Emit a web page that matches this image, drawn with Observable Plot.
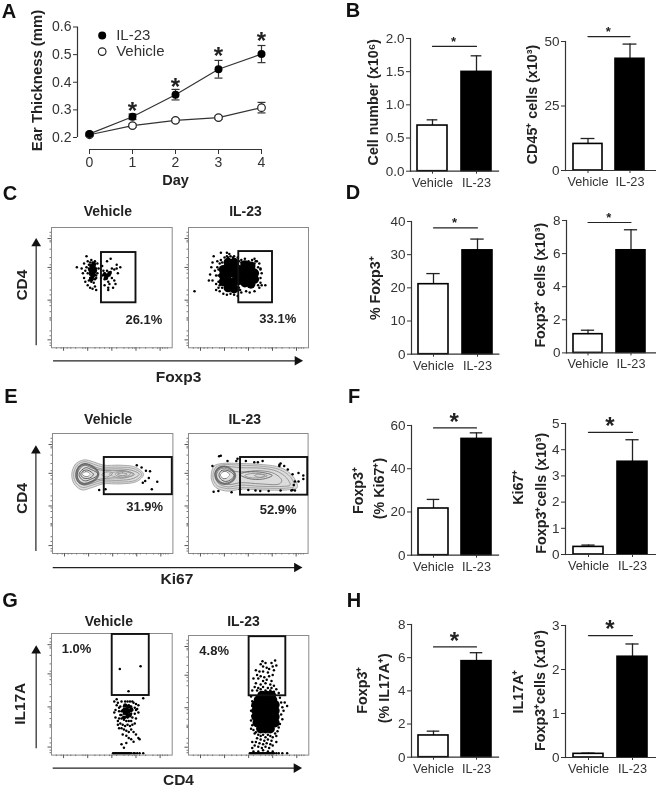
<!DOCTYPE html>
<html><head><meta charset="utf-8">
<script src="https://cdn.jsdelivr.net/npm/d3@7"></script>
<script src="https://cdn.jsdelivr.net/npm/@observablehq/plot@0.6"></script>
<style>
html,body{margin:0;padding:0;background:#fff;overflow:hidden}
#page{position:relative;width:656px;height:788px;filter:blur(0.35px)}
#page svg{position:absolute;overflow:visible;background:transparent}
.letter{position:absolute;font:bold 20px "Liberation Sans",Arial,sans-serif;color:#111;transform:translate(-50%,-50%)}
</style></head><body><div id="page"></div>
<script>
// ---------- Panel A data ----------
const days=[0,1,2,3,4];
const il23Thick=[0.213,0.275,0.355,0.447,0.502];
const il23Err=[0.006,0.010,0.019,0.032,0.031];
const vehThick=[0.210,0.243,0.262,0.272,0.308];
const vehErr=[0.004,0.006,0.006,0.006,0.019];
const starDays=[1,2,3,4];
const starLevels=[0.308,0.395,0.510,0.564];
// ---------- Bar panel data ----------
const cats=["Vehicle","IL-23"];
const barFill=["white","black"];
const b1Mean=[0.688,1.497], b1Upper=[0.774,1.739];
const b2Mean=[10.3,43.3],  b2Upper=[12.4,49];
const d1Mean=[21.1,31.3],  d1Upper=[24.3,34.7];
const d2Mean=[1.13,6.2],   d2Upper=[1.37,7.44];
const f1Mean=[21.6,53.8],  f1Upper=[25.8,56.6];
const f2Mean=[0.29,3.54],  f2Upper=[0.36,4.38];
const h1Mean=[1.31,5.79],  h1Upper=[1.57,6.3];
const h2Mean=[0.083,2.29], h2Upper=[0.10,2.58];
// ---------- Flow cytometry data (percent of each axis) ----------
const cVehCore=[33,68,35,67,32,65,34,65,36,64,33,62,35,61,34,59,33,57,35,70,44,61,46,60,48,62,45,58];
const cVehDots=[21,67,29,76,30,72,25,66,27,70,28,64,26,62,27,58,28,55,30,52,32,50,34,49,36,51,37,48,31,56,
33,68,35,68,31,66,33,66,35,65,37,66,32,63,34,63,36,63,33,60,35,60,32,58,34,57,36,57,38,70,34,71,36,72,33,73,38,62,39,66,
31,69,30,62,29,67,37,60,36,69,32,71,34,65,32,61,35,62,33,55,35,54,37,58,
42,60,44,62,46,58,48,60,44,57,47,55,49,63,50,66,46,64,52,65,54,66,50,58,52,56,48,53,51,50,53,53,47,50,46,72,42,68,49,74,55,62,54,69,57,67,44,52,47,48,43,64,45,60,41,58];
const cIlCore=[29,55,29,60,29,65,33,50,33,55,33,61,33,67,33,71,38,49,38,55,38,62,38,68,38,71,42,56,42,60,42,65,47,54,47,60,47,66,47,69,52,53,52,59,52,65,52,68,55,57,55,62];
const cIlDots=[19,67,20,71,18,61,20,56,17,56,22,64,23,60,24,67,24,72,21,76,23,53,25,50,23,48,26,47,29,45,32,44,35,45,38,44,41,43,44,46,48,47,51,46,55,47,59,50,60,54,60,58,61,62,60,66,59,70,56,72,53,73,50,72,47,74,44,73,41,75,38,76,35,76,32,76,30,75,27,73,33,75,37,75,5,47,60,65,61,52,64,52,27,79,32,79,34,78,55,74,57,72,25,55,25,60,25,65,26,70,28,71,28,50,26,52,58,52,58,67,55,70,42,50,43,48,42,72,44,71];
const eVehDots=[70,73.6,74,71.7,77.6,69,81,68.6,80,63,87,59.7,77,60.5,75,59,82.5,53.6,38.8,53,44,53.6];
const eIlDots=[20,73,25.6,81,27,81.4,32.6,77,41,79,48,77,55,76,62,77,76,74,80,73,83,70,87,66,92,67,96,65,96,62,92,60,89,60,88,57,87,53,86,52.5,89,52.5,77,52.5,67,52,60,52,56,52.5,50,53,43,53.5,36,51,25,52,21,51.5,40,77,58,76,76,73,77,75];
const gVehCore=[60,36,62,38,64,36,62,34,64,40,61,41,66,38,63,32,60,31,65,33];
const gVehDots=[56.6,70.7,73.8,73,63.8,52.6,76,46.8,
60,40,62,41,64,41,66,40,59,37,61,37,63,38,65,37,67,37,60,34,62,34,64,35,66,34,61,31,63,31,65,32,67,31,60,29,62,28,64,28,66,28,63,44,65,44,61,44,58,44,68,43,70,42,57,40,69,39,71,38,56,36,57,33,58,30,69,34,70,30,54,41,53,37,52,44,54,46,52,35,53,31,55,28,57,26,59,25,61,24,63,25,65,24,67,25,69,26,56,22,60,21,62,20,64,19,66,21,68,19,70,17,72,14,73,13,59,17,62,16,64,14,66,13,68,11,58,9,60,6,62,10,
62,36,63,35,61,35,64,37,63,40,65,40,62,38,64,33,60,38,66,36,55,43,56,39,58,36,58,33,56,30,72,35,72,41,70,37,67,44,55,25,58,22,
51,1.5,52,1.5,53,1.5,54,1.5,55,1.5,56,1.5,57,1.5,58,1.5,59,1.5,60,1.5,61,1.5,62,1.5,63,1.5,64,1.5,65,1.5,66,1.5,68,1.5,69,1.5,71,1.5,73,1.5,76,1.5];
const gIlCore=[60,22,64,22,68,22,57,27,61,27,65,27,69,27,72,27,56,32,60,32,64,32,68,32,72,32,56,37,60,37,64,37,68,37,72,37,56,42,60,42,64,42,68,42,72,42,58,46,62,46,66,46,70,46,61,50,65,50,69,50];
const gIlDots=[61.5,78.4,60,76,64,77,69,77,72,79,62,74,65,73,67,72,70,74,73,75,56,71,59,70,62,70,66,69,71,71,57,67,60,66,63,65,67,66,70,67,54,64,58,64,62,62,65,63,69,62,56,60,60,59,64,60,68,59,71,58,55,57,58,56,62,57,66,56,69,56,73,55,53,54,57,54,60,55,64,54,68,54,71,53,75,52,
52,49,53,45,53,41,52,37,53,33,52,29,53,25,54,21,55,18,52,22,76,48,77,44,78,40,79,37,77,34,78,30,76,26,75,23,74,20,72,18,73,16,80,44,82,41,
56,19,58,17,60,16,62,17,64,15,66,17,68,16,70,15,57,14,60,13,63,12,66,13,69,12,56,11,59,10,62,9,65,10,68,9,53,11,55,8,58,7,61,6,64,7,67,6,70,8,73,11,53,6,
51,1.5,52,1.5,53,1.5,54,1.5,55,1.5,56,1.5,57,1.5,58,1.5,59,1.5,60,1.5,61,1.5,62,1.5,63,1.5,64,1.5,65,1.5,66,1.5,67,1.5,68,1.5,69,1.5,70,1.5,71,1.5,73,1.5,75,1.5,78,1.5,82,1.5,54,3,58,3,62,4,66,3,70,3];
const eVehContours=[
[16,66,19,74.4,26,78,34,76.4,42.4,73.6,56,73.6,68.7,72,75.6,66,70,60,56,58,42,58,33,55,24.4,53,18,58],
[17.5,66,20.5,73.5,26,76.5,34,74.5,42,72,56,72,68,70.5,74,66,69,61,56,59.5,42,59.5,33,57,25,55,19.5,59],
[19,66,22,72.5,26.5,75,33,73,41,70.5,56,70.5,67,69,72,66,67,62.5,56,61,41,61,33,58.5,26,57,21,60],
[20.5,66,23.5,71.5,27,73.5,32,71.5,40,69.5,50,69,60,69,68,66,60,63,50,63,40,62,32,60,26.5,58.5,22,61],
[22,66,25,70,28,71.5,32,70,36,68,38,66,36,64,32,62,27.5,60.5,24,62],
[23.5,66,26,69,29,69.5,32,68,34,66,32,63.5,29,62.5,25.5,63],
[25,66,27.5,68,30,67.5,31,66,29.5,64.5,27,64.5],
[41,66,45,68,50,67,46,64,42,64.5],
[52,66,58,68.5,65,66.5,58,63.5],
[54,66,58,67.2,62,66,58,64.8],
[47,66,53,68,63,68,67,66,63,64,53,63.8]];
const eVehLobe=[20,66,22,72,27,74.5,33,72.5,38,67,36,62,30,58.5,25,58,21,61];
const eVehCenter=[25,66,27.5,67.6,30,67.2,31,66,29.5,64.8,27,64.8];
const eIlContours=[
[19,66,21.4,73,28.4,75,43.7,75,63,74,77,71.6,87,64.7,91,55,82.7,53,60.4,53,43.7,53.6,32.6,52,22.8,55,19.5,60.5],
[20.5,66,23,72,29,74,44,73.5,63,72.5,76,70,85,64,88.5,56,82,54.5,60,54.5,44,55,33,54,24,56.5,21,61],
[22,66,24.5,71,29.5,72.5,44,71.5,62,71,74,68.5,82,63,85,57,80,56,60,56,44,57,33,55.5,25.5,58,23,62],
[23.5,65.5,26,70,30,71,36,69,44,68,60,69,72,66.5,78,61,76,58,60,58,44,59,34,57.5,27,59.5,24.5,62],
[25.5,65.5,27.5,69,31,69.5,36,67.5,38,65,36,62,31,60,27,62],
[27,65.5,29,68,31.5,68,34,66,32,63,29,62.5],
[43,66,50,68,62,67.5,70,65,62,62,50,62.5],
[47,65,54,66.8,62,66,66,64.8,58,63,50,63.5],
[55,65,60,66,64,65,60,63.5]];
const eIlLobe=[22.5,66,25,71,30,72.5,36,70,39,65,36,60,30,58,25,60];
const eIlCenter=[27,65.5,29,67.6,32,67.6,34,65.5,32,63.2,29,63];
const contourShade=["#999","#999","#888","#777","#444","#444","#555","#888","#888","#777","#999"];
const flowMajor=[6.6,39.6,66.8,90.8], flowMinor=[2,4,10,14,23,24,25,30,35,38,44,48,58,62,65,69,75,82,88,89,93,96];
const flowXMajor=[10,30,50,70,90], flowXMinor=[4,8,13,16,20,26,28,36,40,44,48,54,60,64,67,69,73,78,84,88,92,94,96];

const pairs=a=>d3.range(0,a.length,2).map(i=>({x:a[i],y:a[i+1]}));
const FONT='"Liberation Sans",Arial,sans-serif';
const page=document.getElementById("page");
const place=(svg,left,top)=>{svg.style.left=left+"px";svg.style.top=top+"px";page.appendChild(svg);};
const base={style:{fontFamily:FONT,background:"transparent",overflow:"visible"}};
const boldText=(t,o)=>Plot.text([t],{text:d=>d,fontWeight:"bold",fill:"#222",textAnchor:"middle",lineAnchor:"middle",...o});

// ---------- Panel A ----------
(function(){
  const rows=(vals,errs)=>days.map((d,i)=>({d,v:vals[i],lo:vals[i]-errs[i],hi:vals[i]+errs[i]}));
  const il=rows(il23Thick,il23Err), veh=rows(vehThick,vehErr);
  const cap=(s,k)=>Plot.dot(s,{x:"d",y:k,symbol:{draw(c,sz){c.moveTo(-4,0);c.lineTo(4,0);}},stroke:"#333",strokeWidth:1.2,r:4});
  const svg=Plot.plot({...base,width:290,height:190,marginLeft:77,marginTop:20,marginBottom:41,marginRight:29,
    x:{domain:[0,4],range:[89,261]},
    y:{domain:[0.2,0.6],range:[137,26.5]},
    marks:[
      Plot.ruleX([0],{y1:0.2,y2:0.6,dx:-12,stroke:"#333",strokeWidth:1.2}),
      Plot.ruleY([0.2],{x1:0,x2:4,dy:12,stroke:"#333",strokeWidth:1.2}),
      Plot.axisY({ticks:[0.2,0.3,0.4,0.5,0.6],tickFormat:d3.format(".1f"),label:null,fontSize:14,color:"#333",tickSize:4,tickPadding:2}),
      Plot.axisX({ticks:days,tickFormat:"d",label:null,fontSize:14,color:"#333",tickSize:5,tickPadding:3}),
      Plot.ruleX(veh,{x:"d",y1:"lo",y2:"hi",stroke:"#333",strokeWidth:1.2}),cap(veh,"lo"),cap(veh,"hi"),
      Plot.ruleX(il,{x:"d",y1:"lo",y2:"hi",stroke:"#333",strokeWidth:1.2}),cap(il,"lo"),cap(il,"hi"),
      Plot.line(veh,{x:"d",y:"v",stroke:"#333",strokeWidth:1.2}),
      Plot.line(il,{x:"d",y:"v",stroke:"#333",strokeWidth:1.2}),
      Plot.dot(veh,{x:"d",y:"v",r:3.8,fill:"white",stroke:"#222",strokeWidth:1.2}),
      Plot.dot(il,{x:"d",y:"v",r:4,fill:"black"}),
      Plot.text(starDays,{x:d=>d,y:(d,i)=>starLevels[i],text:()=>"*",fontSize:24,fontWeight:"bold",fill:"#222",lineAnchor:"middle",dy:4}),
      Plot.dot([0],{x:[0.295],y:[0.569],r:4,fill:"black"}),
      Plot.dot([0],{x:[0.295],y:[0.511],r:3.8,fill:"white",stroke:"#222",strokeWidth:1.2}),
      Plot.text(["IL-23"],{x:[0.62],y:[0.569],text:d=>d,textAnchor:"start",fontSize:15,fill:"#333"}),
      Plot.text(["Vehicle"],{x:[0.62],y:[0.511],text:d=>d,textAnchor:"start",fontSize:15,fill:"#333"}),
      boldText("Ear Thickness (mm)",{frameAnchor:"top-left",dx:37-77,dy:80-20,rotate:-90,fontSize:14.9}),
      boldText("Day",{frameAnchor:"top-left",dx:175-77,dy:180-20,fontSize:14.5})
    ]});
  place(svg,0,0);
})();

// ---------- Bar panels ----------
function barPanel(p){
  const rows=cats.map((c,i)=>({c,m:p.mean[i],u:p.upper[i],f:barFill[i]}));
  const ml=72, mt=26, mb=30;
  const left=p.axisX-ml, top=p.top-mt;
  const w=p.end-left;
  const bw=(p.bars[1]-p.bars[0]-p.gap)/2;
  const h=p.base-top+mb;
  const c1=p.bars[0]+bw/2, c2=p.bars[1]-bw/2;
  const svg=Plot.plot({...base,width:w,height:h,marginLeft:ml,marginTop:mt,marginBottom:mb,marginRight:0,
    x:{type:"band",domain:cats,range:[p.bars[0]-left,p.bars[1]-left],paddingInner:p.gap/(bw+p.gap),paddingOuter:0,align:0},
    y:{domain:[0,p.max]},
    color:{type:"identity"},
    marks:[
      Plot.ruleX(rows,{x:"c",y1:"m",y2:"u",stroke:"#222",strokeWidth:1.3}),
      Plot.tickY(rows,{x:"c",y:"u",stroke:"#222",strokeWidth:1.3,insetLeft:bw/2-(p.cap||6),insetRight:bw/2-(p.cap||6)}),
      Plot.barY(rows,{x:"c",y:"m",fill:"f",stroke:"#000",strokeWidth:1.6}),
      Plot.frame({anchor:"left",stroke:"#333",strokeWidth:1.2}),
      Plot.frame({anchor:"bottom",stroke:"#333",strokeWidth:1.2}),
      Plot.axisY({ticks:p.ticks,tickFormat:p.fmt,label:null,fontSize:13.5,color:"#333",tickSize:4,tickPadding:2}),
      Plot.axisX({label:null,fontSize:12.7,color:"#333",tickSize:3,tickPadding:3.5}),
      Plot.line(cats.map(c=>({c,y:p.sig})),{x:"c",y:"y",stroke:"#222",strokeWidth:1.2}),
      Plot.text([cats[0]],{x:d=>d,y:()=>p.sig,text:()=>"*",dx:(c2-c1)/2-1,dy:p.big?-6:-5,fontSize:p.big?24:13,fontWeight:"bold",fill:"#222",lineAnchor:"middle"}),
      ...p.labels.map(l=>boldText(l.t,{frameAnchor:"top-left",dx:l.x-p.axisX,dy:l.y-p.top,rotate:-90,fontSize:14.3}))
    ]});
  place(svg,left,top);
}
const f1=d3.format(".1f"), f0=d3.format("d");
barPanel({axisX:410,end:498,top:38.3,base:171,max:2,ticks:[0,0.5,1,1.5,2],fmt:f1,bars:[416.7,491.3],gap:14,mean:b1Mean,upper:b1Upper,sig:1.88,cap:5.5,
  labels:[{t:"Cell number (x10⁶)",x:373,y:102}]});
barPanel({axisX:565,end:655,top:41,base:170,max:50,ticks:[0,25,50],fmt:f0,bars:[572.7,644.3],gap:13.3,mean:b2Mean,upper:b2Upper,sig:51.9,cap:7,
  labels:[{t:"CD45⁺ cells (x10³)",x:531.7,y:104}]});
barPanel({axisX:410.7,end:498,top:221,base:353.7,max:40,ticks:[0,10,20,30,40],fmt:f0,bars:[417.7,491.3],gap:14.4,mean:d1Mean,upper:d1Upper,sig:38.1,cap:6.5,
  labels:[{t:"% Foxp3⁺",x:375,y:287.7}]});
barPanel({axisX:565.7,end:655,top:220.3,base:352.7,max:8,ticks:[0,2,4,6,8],fmt:f0,bars:[572.7,646],gap:13.7,mean:d2Mean,upper:d2Upper,sig:7.88,cap:7,
  labels:[{t:"Foxp3⁺ cells (x10³)",x:540,y:285}]});
barPanel({axisX:411,end:498,top:425,base:554.7,max:60,ticks:[0,20,40,60],fmt:f0,bars:[417.7,491.3],gap:12.7,mean:f1Mean,upper:f1Upper,sig:58.9,big:true,cap:6.5,
  labels:[{t:"Foxp3⁺",x:358,y:490},{t:"(% Ki67⁺)",x:379,y:488}]});
barPanel({axisX:565,end:655,top:423.3,base:554.3,max:5,ticks:[0,1,2,3,4,5],fmt:f0,bars:[572.7,648.3],gap:14,mean:f2Mean,upper:f2Upper,sig:4.66,big:true,cap:7,
  labels:[{t:"Ki67⁺",x:518,y:487},{t:"Foxp3⁺cells (x10³)",x:540.7,y:493}]});
barPanel({axisX:411,end:498,top:624.3,base:757,max:8,ticks:[0,2,4,6,8],fmt:f0,bars:[417.7,492],gap:13.4,mean:h1Mean,upper:h1Upper,sig:6.65,big:true,cap:6.5,
  labels:[{t:"Foxp3⁺",x:362,y:690},{t:"(% IL17A⁺)",x:384,y:688}]});
barPanel({axisX:565,end:655,top:625,base:757,max:3,ticks:[0,1,2,3],fmt:f0,bars:[572.7,648.3],gap:14,mean:h2Mean,upper:h2Upper,sig:2.77,big:true,cap:7,
  labels:[{t:"IL17A⁺",x:518,y:691},{t:"Foxp3⁺cells (x10³)",x:540,y:690}]});

// ---------- Flow panels ----------
function flowPanel(p){
  const [L,R,T,B]=p.frame;
  const ml=50, mt=28, mb=34, mr=p.arrows?150:5;
  const contourRows=(p.contours||[]).flatMap((c,k)=>pairs(c).map(q=>({...q,k})));
  const marks=[];
  if(p.contours){
    marks.push(Plot.line(pairs(p.contours[0]),{x:"x",y:"y",curve:"catmull-rom-closed",fill:"#dcdcdc",stroke:"none"}));
    marks.push(Plot.line(contourRows,{x:"x",y:"y",z:"k",curve:"catmull-rom-closed",stroke:d=>contourShade[d.k],strokeWidth:0.8}));
    marks.push(Plot.line(pairs(p.lobe),{x:"x",y:"y",curve:"catmull-rom-closed",stroke:"#555",strokeWidth:2.2,strokeOpacity:0.75}));
    marks.push(Plot.line(pairs(p.center),{x:"x",y:"y",curve:"catmull-rom-closed",fill:"white",stroke:"none"}));
  }
  if(p.core) marks.push(Plot.dot(pairs(p.core),{x:"x",y:"y",r:p.coreR||5,fill:"black"}));
  marks.push(Plot.dot(pairs(p.dots),{x:"x",y:"y",r:1.25,fill:"black"}));
  marks.push(
    Plot.frame({stroke:"#8a8a8a",strokeWidth:1}),
    Plot.axisY({ticks:flowMajor,tickFormat:()=>"",label:null,tickSize:3.5,color:"#555"}),
    Plot.axisY({ticks:flowMinor,tickFormat:()=>"",label:null,tickSize:1.5,color:"#777"}),
    Plot.axisX({ticks:flowXMajor,tickFormat:()=>"",label:null,tickSize:3.5,color:"#555"}),
    Plot.axisX({ticks:flowXMinor,tickFormat:()=>"",label:null,tickSize:1.5,color:"#777"}),
    Plot.rect([p.gate],{x1:d=>d[0],x2:d=>d[1],y1:d=>d[2],y2:d=>d[3],stroke:"#111",strokeWidth:1.9,fill:"none"}),
    boldText(p.pct[0],{x:[p.pct[1]],y:[p.pct[2]],fontSize:13}),
    boldText(p.title,{frameAnchor:"top-left",dx:p.titleX-L,dy:p.titleY-T,fontSize:14})
  );
  if(p.arrows){
    const a=p.arrows;
    marks.push(
      Plot.ruleX([a.vx],{y1:a.vy[0],y2:a.vy[1],stroke:"#222",strokeWidth:1.2}),
      Plot.dot([0],{x:[a.vx],y:[a.vy[1]],symbol:"triangle",r:3.6,fill:"#111"}),
      Plot.ruleY([a.hy],{x1:a.hx[0],x2:a.hx[1],stroke:"#222",strokeWidth:1.2}),
      Plot.dot([0],{x:[a.hx[1]],y:[a.hy],symbol:"triangle",r:3.6,fill:"#111",rotate:90}),
      boldText(p.yLabel[0],{frameAnchor:"top-left",dx:p.yLabel[1]-L,dy:p.yLabel[2]-T,rotate:-90,fontSize:15.5}),
      boldText(p.xLabel[0],{frameAnchor:"top-left",dx:p.xLabel[1]-L,dy:p.xLabel[2]-T,fontSize:15.5})
    );
  }
  const svg=Plot.plot({...base,width:R-L+ml+mr,height:B-T+mt+mb,marginLeft:ml,marginRight:mr,marginTop:mt,marginBottom:mb,
    x:{domain:[0,100]},y:{domain:[0,100]},marks});
  place(svg,L-ml,T-mt);
}
flowPanel({frame:[51,171.7,226.7,347],title:"Vehicle",titleX:107.3,titleY:211,gate:[41.4,70,37.4,79.2],pct:["26.1%",76.5,23.5],dots:cVehDots,core:cVehCore,coreR:2.2,
  arrows:{vx:-12.7,vy:[1.7,86.7],hy:-10.8,hx:[1.7,203.8]},yLabel:["CD4",22,284.3],xLabel:["Foxp3",178,376]});
flowPanel({frame:[188,308,226.7,347],title:"IL-23",titleX:245,titleY:211,gate:[41.9,70,37.4,80],pct:["33.1%",74.4,23.8],dots:cIlDots,core:cIlCore,coreR:4.6});
flowPanel({frame:[52.3,172.7,432.7,552.7],title:"Vehicle",titleX:108,titleY:418.3,gate:[43,99.5,49,80],pct:["31.9%",76.5,38.5],dots:eVehDots,contours:eVehContours,lobe:eVehLobe,center:eVehCenter,
  arrows:{vx:-13.8,vy:[1.7,85.6],hy:-11.7,hx:[0.6,203]},yLabel:["CD4",22,497.7],xLabel:["Ki67",176.7,578.5]});
flowPanel({frame:[187.7,307.3,432.7,552.7],title:"IL-23",titleX:244,titleY:418.3,gate:[43.5,99.7,48.6,80],pct:["52.9%",75,36.5],dots:eIlDots,contours:eIlContours,lobe:eIlLobe,center:eIlCenter});
flowPanel({frame:[51,171.7,632.7,754.3],title:"Vehicle",titleX:108.3,titleY:621,gate:[50.3,81,49,99.2],pct:["1.0%",20.7,87.1],dots:gVehDots,core:gVehCore,coreR:2,
  arrows:{vx:-12.7,vy:[5.2,85.8],hy:-10.7,hx:[1.4,203]},yLabel:["IL17A",20,703],xLabel:["CD4",178,779.5]});
flowPanel({frame:[187.7,308,634.7,754.3],title:"IL-23",titleX:242.7,titleY:621,gate:[50.4,80.9,49.6,99],pct:["4.8%",21.3,87],dots:gIlDots,core:gIlCore,coreR:4.6});

// ---------- Panel letters ----------
[["A",9,11],["B",353,10],["C",10,193],["D",353,192],["E",11,396],["F",354,396],["G",10,600],["H",354,600]].forEach(([t,x,y])=>{
  const d=document.createElement("div");d.className="letter";d.textContent=t;d.style.left=x+"px";d.style.top=y+"px";page.appendChild(d);
});
</script></body></html>
